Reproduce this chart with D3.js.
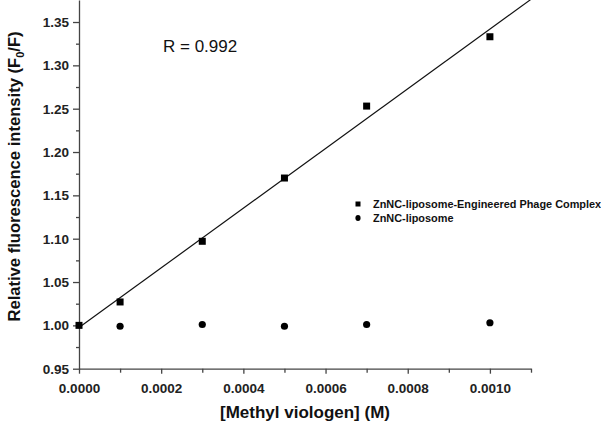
<!DOCTYPE html>
<html><head><meta charset="utf-8">
<script src="https://cdn.jsdelivr.net/npm/d3@7"></script>
<style>body{margin:0;background:#fff}svg{display:block}</style>
</head><body><svg id="c" width="601" height="424"></svg>
<script>
const concX = [0, 0.0001, 0.0003, 0.0005, 0.0007, 0.0010];
const complexY = [1.000, 1.027, 1.097, 1.170, 1.253, 1.333];
const liposomeX = [0.0001, 0.0003, 0.0005, 0.0007, 0.0010];
const liposomeY = [0.999, 1.001, 0.999, 1.001, 1.003];
const xTicks = [0, 0.0002, 0.0004, 0.0006, 0.0008, 0.0010];
const yTicks = [0.95, 1.00, 1.05, 1.10, 1.15, 1.20, 1.25, 1.30, 1.35];
const seriesNames = ["ZnNC-liposome-Engineered Phage Complex", "ZnNC-liposome"];

const svg = d3.select("#c");
const FONT = "Liberation Sans, Arial, sans-serif";
const x = d3.scaleLinear().domain([0, 0.0011]).range([79, 531]);
const y = d3.scaleLinear().domain([0.95, 1.3754]).range([368.7, 0]);
const col = "#444";

// least-squares fit line through the complex series
const mx = d3.mean(concX), my = d3.mean(complexY);
const sxy = d3.sum(concX.map((v,i)=>(v-mx)*(complexY[i]-my)));
const sxx = d3.sum(concX.map(v=>(v-mx)*(v-mx)));
const slope = sxy/sxx, icpt = my - slope*mx;

svg.append("clipPath").attr("id","clip").append("rect")
  .attr("x", x(0)).attr("y", 0).attr("width", x(0.0011)-x(0)).attr("height", y(0.95));
svg.append("line").attr("clip-path","url(#clip)")
  .attr("x1", x(0)).attr("y1", y(icpt))
  .attr("x2", x(0.0011)).attr("y2", y(icpt+slope*0.0011))
  .attr("stroke","#111").attr("stroke-width",1.2);

// axes
const xAxis = d3.axisBottom(x).tickValues(xTicks).tickFormat(d3.format(".4f")).tickSize(5).tickSizeOuter(0);
const xMinor = d3.axisBottom(x).tickValues([0.0001,0.0003,0.0005,0.0007,0.0009,0.0011]).tickFormat("").tickSize(4).tickSizeOuter(0);
const gx = svg.append("g").attr("transform",`translate(0,${y(0.95)})`).call(xAxis);
svg.append("g").attr("transform",`translate(0,${y(0.95)})`).call(xMinor).select(".domain").remove();
const yAxis = d3.axisLeft(y).tickValues(yTicks).tickFormat(d3.format(".2f")).tickSize(6).tickSizeOuter(0);
const yMinor = d3.axisLeft(y).tickValues(d3.range(0,8).map(i=>0.975+i*0.05)).tickFormat("").tickSize(3).tickSizeOuter(0);
const gy = svg.append("g").attr("transform",`translate(${x(0)},0)`).call(yAxis);
svg.append("g").attr("transform",`translate(${x(0)},0)`).call(yMinor).select(".domain").remove();
svg.selectAll(".domain, .tick line").attr("stroke", col).attr("stroke-width",1.3);
svg.selectAll(".tick text").attr("fill","#222").attr("font-family",FONT)
  .attr("font-weight","bold").attr("font-size","13.5px");
gx.selectAll(".tick text").attr("y",24).attr("dy",0);
gy.selectAll(".tick text").attr("dx","-1px");

// markers
svg.append("g").selectAll("rect").data(concX).join("rect")
  .attr("x",(d)=>x(d)-3.5).attr("y",(d,i)=>y(complexY[i])-3.5)
  .attr("width",7).attr("height",7).attr("fill","#000");
svg.append("g").selectAll("circle").data(liposomeX).join("circle")
  .attr("cx",d=>x(d)).attr("cy",(d,i)=>y(liposomeY[i])).attr("r",3.6).attr("fill","#000");

// R label
svg.append("text").attr("x",163).attr("y",52).attr("font-family",FONT)
  .attr("font-size","17px").attr("fill","#111").text("R = 0.992");

// legend
const lg = svg.append("g").attr("font-family",FONT).attr("font-weight","bold").attr("font-size","10.9px").attr("fill","#111");
lg.append("rect").attr("x",355.5).attr("y",201.5).attr("width",5).attr("height",5).attr("fill","#000");
lg.append("ellipse").attr("cx",358).attr("cy",218).attr("rx",2.6).attr("ry",3).attr("fill","#000");
lg.append("text").attr("x",373).attr("y",208).text(seriesNames[0]);
lg.append("text").attr("x",373).attr("y",222).text(seriesNames[1]);

// axis titles
svg.append("text").attr("x",305).attr("y",418).attr("text-anchor","middle")
  .attr("font-family",FONT).attr("font-weight","bold").attr("font-size","17px").attr("fill","#111")
  .text("[Methyl viologen] (M)");
const yt = svg.append("text").attr("transform","translate(19.5,176.5) rotate(-90)").attr("text-anchor","middle")
  .attr("font-family",FONT).attr("font-weight","bold").attr("font-size","16.6px").attr("fill","#111");
yt.append("tspan").text("Relative fluorescence intensity (F");
yt.append("tspan").attr("font-size","11px").attr("dy","4").text("0");
yt.append("tspan").attr("dy","-4").text("/F)");
</script></body></html>
